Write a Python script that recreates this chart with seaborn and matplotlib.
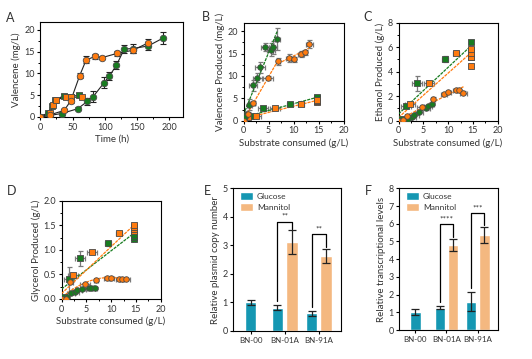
import numpy as np
import pandas as pd
import matplotlib
matplotlib.use("Agg")
import matplotlib.pyplot as plt
import seaborn as sns
from matplotlib.ticker import MultipleLocator

# -----------------------------
# Datos panel A (tiempo vs valenceno)
# -----------------------------
t_naranja_circ = [0, 15, 37, 47, 61, 71, 85, 95, 119, 143, 167]
v_naranja_circ = [0, 0.5, 1.5, 3.7, 9.5, 13.1, 13.9, 13.6, 14.6, 15.3, 17.0]
e_naranja_circ = [0, 0.2, 0.3, 0.4, 0.5, 0.8, 0.6, 0.4, 0.5, 0.6, 0.8]

t_verde_circ = [0, 33, 58, 73, 82, 99, 107, 118, 130, 143, 167, 190]
v_verde_circ = [0, 0.8, 1.9, 3.6, 4.7, 7.9, 9.4, 11.9, 15.6, 15.7, 16.3, 18.1]
e_verde_circ = [0, 0.3, 0.3, 0.8, 1.3, 1.2, 1.0, 0.9, 0.9, 1.0, 1.0, 1.3]

t_naranja_cuad = [0, 15, 20, 25, 40, 48, 65]
v_naranja_cuad = [0, 0.9, 2.8, 3.9, 4.7, 4.5, 4.6]
e_naranja_cuad = [0, 0.2, 0.3, 0.3, 0.4, 0.3, 0.3]

t_verde_cuad = [0, 12, 18, 23, 36, 48, 60]
v_verde_cuad = [0, 1.0, 2.6, 3.8, 4.9, 4.6, 5.1]
e_verde_cuad = [0, 0.2, 0.3, 0.3, 0.4, 0.3, 0.4]

# -----------------------------
# Datos paneles B, C, D (sustrato consumido)
# -----------------------------
s_verde_cuad = [0, 0.6, 1.5, 3.8, 9.3, 14.6, 14.6, 14.6]
sx_verde_cuad = [0, 0.4, 1.0, 1.0, 0.6, 0.2, 0.2, 0.2]
b_verde_cuad = [0, 1.2, 1.0, 2.8, 3.7, 4.9, 5.1, 5.3]
be_verde_cuad = [0, 0.5, 0.3, 0.3, 0.3, 0.3, 0.3, 0.3]
c_verde_cuad = [0, 0.1, 1.2, 3.05, 5.05, 5.2, 5.8, 6.45]
ce_verde_cuad = [0, 0.05, 0.15, 0.6, 0.25, 0.1, 0.1, 0.15]
d_verde_cuad = [0, 0.05, 0.4, 0.83, 1.13, 1.22, 1.27, 1.31]
de_verde_cuad = [0, 0.02, 0.25, 0.15, 0.05, 0.05, 0.05, 0.05]

s_naranja_cuad = [0, 0.9, 2.4, 6.2, 11.5, 14.6, 14.6, 14.6, 14.6]
sx_naranja_cuad = [0, 0.4, 1.0, 1.0, 0.6, 0.2, 0.2, 0.2, 0.2]
b_naranja_cuad = [0, 0.9, 1.0, 2.8, 3.8, 4.2, 4.4, 4.5, 4.6]
be_naranja_cuad = [0, 0.3, 0.3, 0.3, 0.3, 0.3, 0.3, 0.3, 0.3]
c_naranja_cuad = [0, 0.0, 1.4, 3.1, 5.55, 4.5, 5.2, 5.5, 5.85]
ce_naranja_cuad = [0, 0.05, 0.15, 0.1, 0.1, 0.1, 0.1, 0.1, 0.1]
d_naranja_cuad = [0, 0.0, 0.48, 0.95, 1.35, 1.38, 1.43, 1.47, 1.51]
de_naranja_cuad = [0, 0.02, 0.05, 0.04, 0.04, 0.04, 0.04, 0.04, 0.04]

s_verde_circ = [0, 0.3, 1.1, 1.9, 2.7, 3.2, 4.2, 5.5, 5.9, 6.7]
sx_verde_circ = [0, 0.3, 0.5, 0.8, 0.9, 1.0, 0.8, 0.8, 0.8, 0.5]
b_verde_circ = [0, 0.9, 3.6, 7.9, 9.6, 11.9, 16.4, 15.9, 16.4, 18.2]
be_verde_circ = [0, 1.3, 1.3, 1.2, 1.0, 1.2, 0.9, 1.5, 1.5, 2.5]
c_verde_circ = [0, 0.0, 0.05, 0.1, 0.3, 0.45, 0.7, 1.0, 1.2, 1.35]
ce_verde_circ = [0, 0.05, 0.05, 0.05, 0.1, 0.1, 0.1, 0.1, 0.1, 0.1]
d_verde_circ = [0, 0.0, 0.05, 0.12, 0.15, 0.18, 0.2, 0.22, 0.23, 0.23]
de_verde_circ = [0, 0.02, 0.02, 0.02, 0.02, 0.02, 0.02, 0.02, 0.02, 0.02]

s_naranja_circ = [0, 0.9, 1.8, 4.8, 6.9, 9.1, 10.0, 11.5, 12.2, 13.1]
sx_naranja_circ = [0, 0.3, 0.5, 1.0, 0.4, 0.6, 0.5, 0.6, 0.5, 0.7]
b_naranja_circ = [0, 1.6, 3.9, 9.6, 13.3, 14.0, 13.7, 14.9, 15.3, 17.2]
be_naranja_circ = [0, 0.3, 0.4, 0.5, 0.8, 0.8, 0.6, 0.6, 0.6, 0.9]
c_naranja_circ = [0, 0.05, 0.35, 1.15, 1.8, 2.2, 2.35, 2.5, 2.5, 2.3]
ce_naranja_circ = [0, 0.05, 0.1, 0.1, 0.1, 0.1, 0.1, 0.1, 0.1, 0.1]
d_naranja_circ = [0, 0.0, 0.34, 0.3, 0.39, 0.43, 0.43, 0.41, 0.41, 0.41]
de_naranja_circ = [0, 0.02, 0.02, 0.02, 0.02, 0.02, 0.02, 0.02, 0.02, 0.02]

# -----------------------------
# Datos paneles E, F (barras)
# -----------------------------
cepas = ["BN-00", "BN-01A", "BN-91A"]
fuentes = ["Glucose", "Mannitol"]
e_glucosa = [1.0, 0.82, 0.62]
e_glucosa_sd = [0.08, 0.08, 0.08]
e_manitol = [3.12, 2.63]          # solo BN-01A y BN-91A
e_manitol_sd = [0.42, 0.26]
e_tope = [3.83, 3.39]
e_sig = ["**", "**"]

f_glucosa = [1.02, 1.27, 1.6]
f_glucosa_sd = [0.17, 0.08, 0.53]
f_manitol = [4.8, 5.37]
f_manitol_sd = [0.35, 0.45]
f_tope = [5.97, 6.59]
f_sig = ["****", "***"]

# -----------------------------
# Estilo
# -----------------------------
NARANJA = "#ff7b0f"
VERDE = "#187c20"
BORDE = "#4a4a4a"
TEAL = "#1597b2"
MELOCOTON = "#f4b880"
GRIS_TXT = "#333333"

sns.set_style("ticks")
plt.rcParams["font.family"] = ["Lato", "DejaVu Sans"]
plt.rcParams.update({
    "axes.linewidth": 0.8,
    "xtick.major.width": 0.8, "ytick.major.width": 0.8,
    "xtick.minor.width": 0.7, "ytick.minor.width": 0.7,
    "xtick.major.size": 2.5, "ytick.major.size": 2.5,
    "xtick.minor.size": 1.5, "ytick.minor.size": 1.5,
    "xtick.labelsize": 6.5, "ytick.labelsize": 6.5,
    "axes.labelsize": 7, "xtick.major.pad": 1.5, "ytick.major.pad": 1.5,
    "xtick.color": "black", "ytick.color": "black",
    "xtick.labelcolor": GRIS_TXT, "ytick.labelcolor": GRIS_TXT,
    "axes.labelcolor": GRIS_TXT, "axes.labelpad": 2,
})

W, H = 532, 359
fig = plt.figure(figsize=(W / 100, H / 100), dpi=100)


def caja(x0, y0, x1, y1):
    # caja en pixeles -> ejes
    return fig.add_axes([x0 / W, 1 - y1 / H, (x1 - x0) / W, (y1 - y0) / H])


ax_a = caja(40.3, 22, 183, 117)
ax_b = caja(243.5, 22.7, 343.7, 120.7)
ax_c = caja(398.5, 22.7, 497.7, 120.7)
ax_d = caja(61.5, 200.7, 160.7, 299)
ax_e = caja(233.3, 188.3, 340.7, 331)
ax_f = caja(399.3, 188.3, 497.7, 330)


def marcadores(ax, x, y, color, marker, s=20):
    sns.scatterplot(x=x, y=y, color=color, marker=marker, s=s,
                    edgecolor=BORDE, linewidth=0.6, ax=ax, zorder=4, legend=False)


# -----------------------------
# Panel A
# -----------------------------
series_a = [
    (t_verde_cuad, v_verde_cuad, e_verde_cuad, VERDE, "s"),
    (t_naranja_cuad, v_naranja_cuad, e_naranja_cuad, NARANJA, "s"),
    (t_verde_circ, v_verde_circ, e_verde_circ, VERDE, "o"),
    (t_naranja_circ, v_naranja_circ, e_naranja_circ, NARANJA, "o"),
]
for t, v, e, col, mk in series_a:
    ax_a.errorbar(t, v, yerr=e, fmt="none", ecolor="#222222", elinewidth=0.8,
                  capsize=2, capthick=0.8, zorder=2)
    sns.lineplot(x=t, y=v, sort=False, estimator=None, color="#222222",
                 lw=0.8, ax=ax_a, zorder=1)
    marcadores(ax_a, t, v, col, mk, s=20 if mk == "s" else 22)

ax_a.set_xlim(0, 221)
ax_a.set_ylim(0, 21.8)
ax_a.xaxis.set_major_locator(MultipleLocator(50))
ax_a.xaxis.set_minor_locator(MultipleLocator(25))
ax_a.yaxis.set_major_locator(MultipleLocator(5))
ax_a.yaxis.set_minor_locator(MultipleLocator(2.5))
ax_a.set_xlabel("Time (h)")
ax_a.set_ylabel("Valencene (mg/L)")

# -----------------------------
# Paneles B, C, D
# -----------------------------
ls_reg = (0, (2.5, 0.8))


def panel_xy(ax, yv, ye):
    grupos = [
        (s_verde_cuad, sx_verde_cuad, yv[0], ye[0], VERDE, "s"),
        (s_naranja_cuad, sx_naranja_cuad, yv[1], ye[1], NARANJA, "s"),
        (s_verde_circ, sx_verde_circ, yv[2], ye[2], VERDE, "o"),
        (s_naranja_circ, sx_naranja_circ, yv[3], ye[3], NARANJA, "o"),
    ]
    for s, sx, v, e, col, mk in grupos:
        ax.errorbar(s, v, xerr=sx, yerr=e, fmt="none", ecolor="#7a7a7a",
                    elinewidth=0.9, capsize=1.8, capthick=0.9, zorder=2)
        marcadores(ax, s, v, col, mk, s=16 if mk == "s" else 16)
    ax.set_xlim(0, 20)
    ax.xaxis.set_major_locator(MultipleLocator(5))
    ax.xaxis.set_minor_locator(MultipleLocator(2.5))
    ax.set_xlabel("Substrate consumed (g/L)")


def recta(ax, x, y, col, order=1):
    sns.regplot(x=np.array(x), y=np.array(y), scatter=False, ci=None, order=order,
                color=col, line_kws=dict(lw=0.9, ls=ls_reg, zorder=3), ax=ax)


# B
panel_xy(ax_b, [b_verde_cuad, b_naranja_cuad, b_verde_circ, b_naranja_circ],
         [be_verde_cuad, be_naranja_cuad, be_verde_circ, be_naranja_circ])
recta(ax_b, s_verde_cuad, b_verde_cuad, VERDE)
recta(ax_b, s_naranja_cuad, b_naranja_cuad, NARANJA)
recta(ax_b, s_verde_circ, b_verde_circ, VERDE)
recta(ax_b, s_naranja_circ[:5], b_naranja_circ[:5], NARANJA)
recta(ax_b, s_naranja_circ[4:], b_naranja_circ[4:], NARANJA)
ax_b.set_ylim(0, 21.9)
ax_b.yaxis.set_major_locator(MultipleLocator(5))
ax_b.yaxis.set_minor_locator(MultipleLocator(2.5))
ax_b.set_ylabel("Valencene Produced (mg/L)")

# C
panel_xy(ax_c, [c_verde_cuad, c_naranja_cuad, c_verde_circ, c_naranja_circ],
         [ce_verde_cuad, ce_naranja_cuad, ce_verde_circ, ce_naranja_circ])
recta(ax_c, s_verde_cuad, c_verde_cuad, VERDE)
recta(ax_c, s_naranja_cuad, c_naranja_cuad, NARANJA)
recta(ax_c, s_verde_circ, c_verde_circ, VERDE)
recta(ax_c, s_naranja_circ, c_naranja_circ, NARANJA)
ax_c.set_ylim(0, 8)
ax_c.yaxis.set_major_locator(MultipleLocator(2))
ax_c.yaxis.set_minor_locator(MultipleLocator(1))
ax_c.set_ylabel("Ethanol Produced (g/L)")

# D
panel_xy(ax_d, [d_verde_cuad, d_naranja_cuad, d_verde_circ, d_naranja_circ],
         [de_verde_cuad, de_naranja_cuad, de_verde_circ, de_naranja_circ])
recta(ax_d, s_verde_cuad, d_verde_cuad, VERDE)
recta(ax_d, s_naranja_cuad, d_naranja_cuad, NARANJA)
recta(ax_d, s_verde_circ, d_verde_circ, VERDE)
recta(ax_d, s_naranja_circ, d_naranja_circ, NARANJA, order=2)
ax_d.set_ylim(0, 2.0)
ax_d.yaxis.set_major_locator(MultipleLocator(0.5))
ax_d.yaxis.set_minor_locator(MultipleLocator(0.25))
ax_d.yaxis.set_major_formatter(plt.FormatStrFormatter("%.1f"))
ax_d.set_ylabel("Glycerol Produced (g/L)")

# -----------------------------
# Paneles E, F (barras)
# -----------------------------


def panel_barras(ax, glu, glu_sd, man, man_sd, topes, sig, ymax, ylabel):
    df0 = pd.DataFrame({"cepa": cepas[:1], "valor": glu[:1]})
    df1 = pd.DataFrame({
        "cepa": cepas[1:] * 2,
        "fuente": ["Glucose"] * 2 + ["Mannitol"] * 2,
        "valor": glu[1:] + man,
    })
    sns.barplot(data=df0, x="cepa", y="valor", order=cepas, color=TEAL,
                width=0.34, errorbar=None, saturation=1, ax=ax)
    sns.barplot(data=df1, x="cepa", y="valor", hue="fuente", order=cepas,
                hue_order=fuentes, palette=[TEAL, MELOCOTON], width=0.86,
                gap=0.22, errorbar=None, saturation=1, ax=ax)
    # barras de error, emparejadas por altura
    valores = glu + man
    sds = glu_sd + man_sd
    centros = {}
    for p in ax.patches:
        h = p.get_height()
        if p.get_width() == 0 or np.isnan(h):
            continue
        i = int(np.argmin([abs(h - v) for v in valores]))
        xc = p.get_x() + p.get_width() / 2
        centros[i] = xc
        ax.errorbar(xc, h, yerr=sds[i], fmt="none", ecolor="#222222",
                    elinewidth=0.9, capsize=3, capthick=0.9, zorder=5)
    # corchetes de significancia
    for k in range(2):
        ig, im = 1 + k, 3 + k
        xg, xm = centros[ig], centros[im]
        y_g = valores[ig] + sds[ig] + 0.03 * ymax
        y_m = valores[im] + sds[im] + 0.01 * ymax
        ax.plot([xg, xg, xm, xm], [y_g, topes[k], topes[k], y_m],
                color="black", lw=0.9, zorder=6)
        ax.text((xg + xm) / 2, topes[k] + 0.015 * ymax, sig[k], ha="center",
                va="bottom", fontsize=6, color=GRIS_TXT)
    ax.set_xlim(-0.51, 2.64)
    ax.set_ylim(0, ymax)
    ax.yaxis.set_major_locator(MultipleLocator(1))
    ax.set_xlabel("")
    ax.set_ylabel(ylabel)
    ax.tick_params(axis="x", labelsize=5.8)
    leg = ax.legend(loc="upper left", bbox_to_anchor=(0.02, 1.01), frameon=False,
                    fontsize=6, handlelength=1.5, handleheight=1.1,
                    handletextpad=0.5, labelspacing=0.35, borderaxespad=0.2)
    for txt in leg.get_texts():
        txt.set_color(GRIS_TXT)


panel_barras(ax_e, e_glucosa, e_glucosa_sd, e_manitol, e_manitol_sd,
             e_tope, e_sig, 5, "Relative plasmid copy number")
panel_barras(ax_f, f_glucosa, f_glucosa_sd, f_manitol, f_manitol_sd,
             f_tope, f_sig, 8, "Relative transcriptional levels")

for ax in [ax_a, ax_b, ax_c, ax_d, ax_e, ax_f]:
    for sp in ax.spines.values():
        sp.set_visible(True)
        sp.set_color("black")

# letras de panel
for letra, (px, py) in {"A": (10, 18), "B": (206, 17), "C": (368, 17),
                         "D": (12, 191), "E": (207, 191), "F": (368, 191)}.items():
    fig.text(px / W, 1 - py / H, letra, ha="center", va="center",
             fontsize=9, color=GRIS_TXT)

fig.savefig("out.png", dpi=100)
